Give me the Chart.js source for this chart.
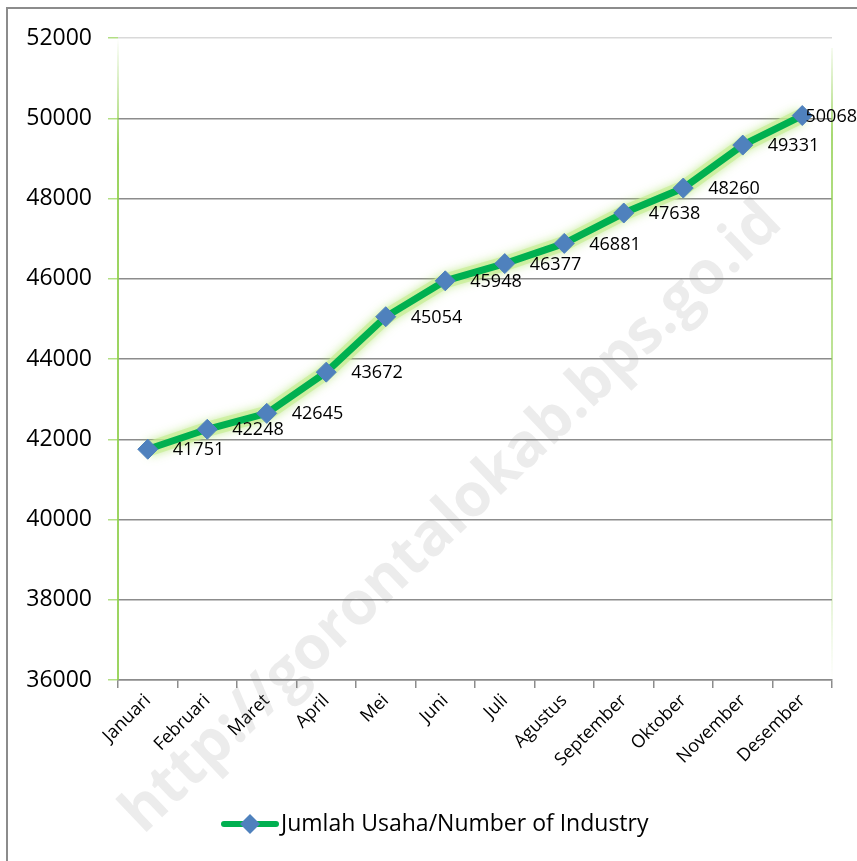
<!DOCTYPE html>
<html>
<head>
<meta charset="utf-8">
<script src="https://cdn.jsdelivr.net/npm/chart.js@4"></script>
<style>
  html, body { margin: 0; padding: 0; background: #fff; }
  #wrap { width: 857px; height: 861px; position: relative; }
</style>
</head>
<body>
<div id="wrap"><canvas id="c" width="857" height="861"></canvas></div>
<script>
const months = ['Januari','Februari','Maret','April','Mei','Juni','Juli','Agustus','September','Oktober','November','Desember'];
const industry = [41751, 42248, 42645, 43672, 45054, 45948, 46377, 46881, 47638, 48260, 49331, 50068];
const seriesLabel = 'Jumlah Usaha/Number of Industry';
const yTicks = [36000, 38000, 40000, 42000, 44000, 46000, 48000, 50000, 52000];
const watermark = 'http://gorontalokab.bps.go.id';

const FONT = "'Open Sans', 'DejaVu Sans', sans-serif";
const GREEN = '#00b050';
const BLUE = '#4f81bd';

// outer frame + watermark
const frame = {
  id: 'frame',
  beforeDraw(chart) {
    const c = chart.ctx; c.save();
    c.strokeStyle = '#8c8c8c'; c.lineWidth = 2;
    c.beginPath(); c.moveTo(7, 861); c.lineTo(7, 8); c.lineTo(857, 8); c.stroke();
    c.restore();
  },
  afterDraw(chart) {
    const c = chart.ctx; c.save();
    c.translate(452, 518); c.rotate(-Math.PI * 0.242);
    c.font = `bold 60px ${FONT}`;
    c.fillStyle = 'rgba(120,120,120,0.14)';
    c.textAlign = 'center'; c.textBaseline = 'middle';
    c.fillText(watermark, 0, 0);
    c.restore();
  }
};

// green side edges of the plot area, glow under the line
const edges = {
  id: 'edges',
  beforeDatasetsDraw(chart) {
    const { left, right, top, bottom } = chart.chartArea;
    const c = chart.ctx; c.save(); c.lineWidth = 2;
    let g = c.createLinearGradient(0, top, 0, top + 110);
    g.addColorStop(0, 'rgba(146,208,80,0)'); g.addColorStop(1, 'rgba(146,208,80,0.9)');
    c.strokeStyle = g; c.beginPath(); c.moveTo(left, top); c.lineTo(left, bottom); c.stroke();
    g = c.createLinearGradient(0, top, 0, bottom);
    g.addColorStop(0, 'rgba(146,208,80,0)'); g.addColorStop(0.15, 'rgba(146,208,80,0.8)');
    g.addColorStop(0.75, 'rgba(146,208,80,0.45)'); g.addColorStop(1, 'rgba(146,208,80,0)');
    c.strokeStyle = g; c.beginPath(); c.moveTo(right, top + 10); c.lineTo(right, bottom); c.stroke();
    c.restore();
  },
  beforeDatasetDraw(chart, args) {
    if (args.index === 1) { chart.ctx.save(); chart.ctx.shadowColor = 'rgba(170,225,100,0.9)'; chart.ctx.shadowBlur = 10; }
  },
  afterDatasetDraw(chart, args) {
    if (args.index === 1) chart.ctx.restore();
  }
};

const valueLabels = {
  id: 'valueLabels',
  afterDatasetsDraw(chart) {
    const c = chart.ctx; c.save();
    c.font = `18px ${FONT}`; c.fillStyle = '#000';
    c.textAlign = 'left'; c.textBaseline = 'middle';
    chart.getDatasetMeta(0).data.forEach((p, i) => {
      const t = String(industry[i]);
      const x = Math.min(p.x + 25, chart.width - c.measureText(t).width);
      c.fillText(t, x, p.y + 1);
    });
    c.restore();
  }
};

const legendLine = {
  id: 'legendLine',
  afterDraw(chart) {
    const c = chart.ctx; c.save();
    const y = 824;
    c.strokeStyle = GREEN; c.lineWidth = 6; c.lineCap = 'round';
    c.beginPath(); c.moveTo(224, y); c.lineTo(276, y); c.stroke();
    c.fillStyle = BLUE; c.beginPath();
    c.moveTo(250, y - 10); c.lineTo(260, y); c.lineTo(250, y + 10); c.lineTo(240, y); c.closePath(); c.fill();
    c.font = `23px ${FONT}`; c.fillStyle = '#000'; c.textBaseline = 'middle';
    c.fillText(seriesLabel, 281, y);
    c.restore();
  }
};

new Chart(document.getElementById('c'), {
  type: 'line',
  data: {
    labels: months,
    datasets: [
      { label: seriesLabel, data: industry, borderColor: GREEN, borderWidth: 7, tension: 0,
        pointStyle: 'rectRot', pointRadius: 10, pointBackgroundColor: BLUE, pointBorderColor: BLUE, pointBorderWidth: 1 },
      { data: industry, borderColor: 'rgba(200,238,150,0.7)', borderWidth: 15, pointRadius: 0, tension: 0 }
    ]
  },
  options: {
    responsive: false, animation: false, devicePixelRatio: 1,
    layout: { padding: { left: 0, right: 25, top: 38, bottom: 80 } },
    plugins: { legend: { display: false }, tooltip: { enabled: false } },
    scales: {
      x: {
        offset: true,
        grid: { offset: true, drawOnChartArea: false, drawTicks: true, tickLength: 8, color: '#8c8c8c', lineWidth: 1.5 },
        border: { color: '#8c8c8c', width: 1.5 },
        ticks: { color: '#000', font: { family: FONT, size: 18 }, minRotation: 45, maxRotation: 45, padding: 2 },
        afterFit(s) { s.height = 101; }
      },
      y: {
        min: 36000, max: 52000,
        afterBuildTicks(s) { s.ticks = yTicks.map(v => ({ value: v })); },
        grid: { color: ctx => ctx.tick && ctx.tick.value === 52000 ? '#d9d9d9' : '#8c8c8c', lineWidth: 1.5, tickLength: 10, tickColor: 'rgba(146,208,80,0.7)' },
        border: { display: false },
        ticks: { color: '#000', font: { family: FONT, size: 23 }, padding: 16, callback: v => String(v) },
        afterFit(s) { s.width = 118; }
      }
    }
  },
  plugins: [frame, edges, valueLabels, legendLine]
});
</script>
</body>
</html>
